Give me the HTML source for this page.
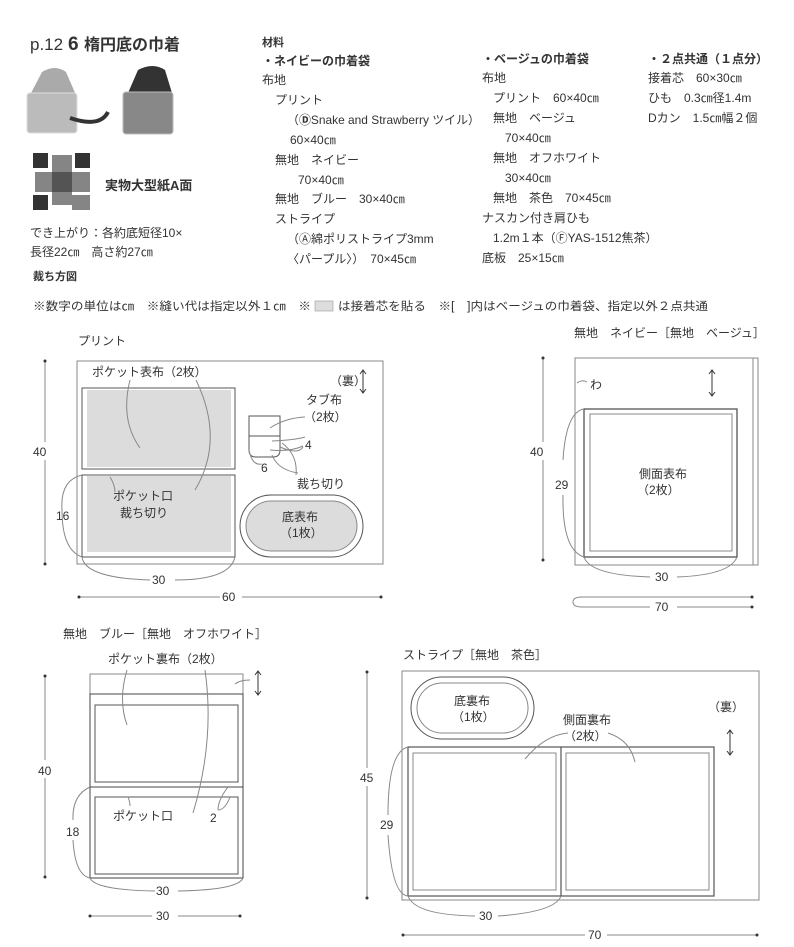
<!DOCTYPE html>
<html><head><meta charset="utf-8"><style>
html,body{margin:0;padding:0;background:#fff}
svg{display:block}
text{font-family:"Liberation Sans","Noto Sans CJK JP",sans-serif;font-size:12px;fill:#333}
.b{font-weight:bold}
</style></head><body>
<svg width="794" height="947" viewBox="0 0 794 947" xmlns="http://www.w3.org/2000/svg">
<!-- Header -->
<text x="30" y="50" style="font-size:17px" fill="#444">p.12</text>
<text x="68" y="50" style="font-size:19px;font-weight:bold">6</text>
<text x="84" y="50" style="font-size:16px;font-weight:bold">楕円底の巾着</text>
<!-- bag photos -->
<g>
<path d="M42 72 Q55 64 66 72 L76 95 L30 95 Z" fill="#aaa"/>
<rect x="27" y="93" width="50" height="40" rx="3" fill="#bbb" stroke="#ddd"/>
<path d="M70 118 Q100 128 108 112" stroke="#333" stroke-width="4" fill="none"/>
<path d="M138 70 Q153 62 165 70 L172 93 L128 93 Z" fill="#333"/>
<rect x="123" y="92" width="50" height="42" rx="3" fill="#888" stroke="#bbb"/>
</g>
<!-- QR -->
<rect x="33" y="153" width="57" height="57" fill="#fff"/>
<g fill="#333">
<rect x="33" y="153" width="15" height="15"/><rect x="75" y="153" width="15" height="15"/><rect x="33" y="195" width="15" height="15"/>
<rect x="52" y="155" width="20" height="50" opacity=".6"/><rect x="35" y="172" width="55" height="20" opacity=".6"/><rect x="72" y="195" width="18" height="15" opacity=".6"/>
</g>
<text x="105" y="190" class="b" style="font-size:13px">実物大型紙A面</text>
<text x="30" y="237">でき上がり：各約底短径10×</text>
<text x="30" y="256">長径22㎝　高さ約27㎝</text>
<text x="33" y="280" class="b" style="font-size:11px">裁ち方図</text>
<text x="33" y="310" style="font-size:11.5px" textLength="278" lengthAdjust="spacingAndGlyphs">※数字の単位は㎝　※縫い代は指定以外１㎝　※</text>
<rect x="315" y="301" width="18" height="10" fill="#ddd" stroke="#999" stroke-width=".6"/>
<text x="338" y="310" style="font-size:11.5px" textLength="370" lengthAdjust="spacingAndGlyphs">は接着芯を貼る　※[　]内はベージュの巾着袋、指定以外２点共通</text>

<!-- Materials -->
<text x="262" y="46" class="b" style="font-size:11px">材料</text>
<text x="262" y="65" class="b">・ネイビーの巾着袋</text>
<text x="262" y="84">布地</text>
<text x="275" y="104">プリント</text>
<text x="287" y="124" textLength="193" lengthAdjust="spacingAndGlyphs">（<tspan style="font-weight:bold">Ⓓ</tspan>Snake and Strawberry ツイル）</text>
<text x="290" y="144">60×40㎝</text>
<text x="275" y="164">無地　ネイビー</text>
<text x="298" y="184">70×40㎝</text>
<text x="275" y="203">無地　ブルー　30×40㎝</text>
<text x="275" y="223">ストライプ</text>
<text x="287" y="243">（Ⓐ綿ポリストライプ3mm</text>
<text x="287" y="263">〈パープル〉）　70×45㎝</text>

<text x="482" y="63" class="b">・ベージュの巾着袋</text>
<text x="482" y="82">布地</text>
<text x="493" y="102">プリント　60×40㎝</text>
<text x="493" y="122">無地　ベージュ</text>
<text x="505" y="142">70×40㎝</text>
<text x="493" y="162">無地　オフホワイト</text>
<text x="505" y="182">30×40㎝</text>
<text x="493" y="202">無地　茶色　70×45㎝</text>
<text x="482" y="222">ナスカン付き肩ひも</text>
<text x="493" y="242">1.2m１本（ⒻYAS-1512焦茶）</text>
<text x="482" y="262">底板　25×15㎝</text>

<text x="648" y="63" class="b">・２点共通（１点分）</text>
<text x="648" y="82">接着芯　60×30㎝</text>
<text x="648" y="102">ひも　0.3㎝径1.4m</text>
<text x="648" y="122">Dカン　1.5㎝幅２個</text>

<!-- Diagram 1 Print -->
<g fill="none" stroke="#888" stroke-width="1">
<text x="78" y="345" stroke="none">プリント</text>
<rect x="77" y="361" width="306" height="203"/>
<rect x="82" y="388" width="153" height="81" stroke="#555"/>
<rect x="87" y="390" width="144" height="77" fill="#dcdcdc" stroke="none"/>
<rect x="82" y="475" width="153" height="82" stroke="#555"/>
<rect x="87" y="476" width="144" height="76" fill="#dcdcdc" stroke="none"/>
<path d="M249 416 H280 V450 Q280 457 273 457 H256 Q249 457 249 450 Z" stroke="#555"/>
<line x1="249" y1="436" x2="280" y2="436" stroke="#555"/>
<rect x="240" y="495" width="123" height="62" rx="31" stroke="#555"/>
<rect x="246" y="501" width="111" height="50" rx="25" fill="#dcdcdc" stroke="#888"/>
<path d="M130 380 Q120 420 140 448" /><path d="M196 380 Q225 440 195 490"/>
<path d="M110 477 Q115 485 115 492"/>
<path d="M82 475 Q60 480 62 510 Q62 550 82 557"/>
<path d="M82 557 Q85 578 150 580 M175 580 Q230 580 235 557"/>
<path d="M270 428 Q285 418 305 417 M272 441 Q295 440 305 437 M270 450 Q290 452 303 446 M280 447 Q298 455 303 447"/>
<path d="M249 450 Q252 466 262 464 M272 455 Q278 470 298 473 M282 443 Q298 455 296 475"/>
<line x1="79" y1="597" x2="220" y2="597"/><line x1="242" y1="597" x2="381" y2="597"/>
<line x1="45" y1="361" x2="45" y2="442"/><line x1="45" y1="460" x2="45" y2="564"/>
</g>
<g fill="#333"><circle cx="79" cy="597" r="1.5"/><circle cx="381" cy="597" r="1.5"/><circle cx="45" cy="361" r="1.5"/><circle cx="45" cy="564" r="1.5"/></g>
<text x="92" y="376">ポケット表布（2枚）</text>
<text x="330" y="385">（裏）</text>
<path d="M363 371 V392 M360 374 L363 370 L366 374 M360 389 L363 393 L366 389" stroke="#333" fill="none"/>
<text x="306" y="404">タブ布</text><text x="304" y="421">（2枚）</text>
<text x="305" y="449">4</text><text x="261" y="472">6</text><text x="297" y="488">裁ち切り</text>
<text x="113" y="500">ポケット口</text><text x="120" y="517">裁ち切り</text>
<text x="282" y="521">底表布</text><text x="280" y="537">（1枚）</text>
<text x="56" y="520">16</text><text x="152" y="584">30</text><text x="222" y="601">60</text><text x="33" y="456">40</text>

<!-- Diagram 2 navy -->
<text x="574" y="337">無地　ネイビー［無地　ベージュ］</text>
<g fill="none" stroke="#888">
<rect x="575" y="358" width="183" height="207"/>
<line x1="753" y1="358" x2="753" y2="565"/>
<rect x="584" y="409" width="153" height="148" stroke="#555" stroke-width="1.3"/>
<rect x="590" y="414" width="142" height="137"/>
<path d="M584 409 Q566 412 563 460 M563 495 Q562 550 584 557"/>
<path d="M584 557 Q590 575 650 577 M677 577 Q730 575 737 557"/>
<path d="M577 383 Q582 379 587 382"/>
<path d="M582 597 Q573 597 573 602 Q573 607 582 607 H650 M677 607 H752 M580 597 H752"/>
<line x1="543" y1="358" x2="543" y2="442"/><line x1="543" y1="460" x2="543" y2="560"/>
</g>
<g fill="#333"><circle cx="543" cy="358" r="1.5"/><circle cx="543" cy="560" r="1.5"/><circle cx="752" cy="597" r="1.5"/><circle cx="752" cy="607" r="1.5"/></g>
<path d="M712 371 V395 M709 374 L712 370 L715 374 M709 392 L712 396 L715 392" stroke="#333" fill="none"/>
<text x="590" y="389">わ</text>
<text x="639" y="478">側面表布</text><text x="637" y="494">（2枚）</text>
<text x="530" y="456">40</text><text x="555" y="489">29</text><text x="655" y="581">30</text><text x="655" y="611">70</text>

<!-- Diagram 3 blue -->
<text x="63" y="638">無地　ブルー［無地　オフホワイト］</text>
<text x="108" y="663">ポケット裏布（2枚）</text>
<g fill="none" stroke="#888">
<rect x="90" y="674" width="153" height="20"/>
<rect x="90" y="694" width="153" height="184" stroke="#444"/>
<line x1="90" y1="787" x2="243" y2="787" stroke="#444"/>
<rect x="95" y="705" width="143" height="77" stroke="#555"/>
<rect x="95" y="797" width="143" height="77" stroke="#555"/>
<path d="M127 670 Q118 700 127 725 M205 670 Q215 740 193 813 M235 684 Q240 680 250 680"/>
<path d="M128 797 Q130 802 130 806 M228 787 Q218 800 218 810 M230 797 Q225 810 218 810"/>
<path d="M90 787 Q72 795 73 820 M73 840 Q75 875 90 878 Q95 890 155 891 M178 891 Q238 890 243 878"/>
<line x1="90" y1="916" x2="152" y2="916"/><line x1="178" y1="916" x2="240" y2="916"/>
<line x1="45" y1="676" x2="45" y2="760"/><line x1="45" y1="778" x2="45" y2="877"/>
</g>
<g fill="#333"><circle cx="90" cy="916" r="1.5"/><circle cx="240" cy="916" r="1.5"/><circle cx="45" cy="676" r="1.5"/><circle cx="45" cy="877" r="1.5"/></g>
<path d="M258 672 V694 M255 675 L258 671 L261 675 M255 691 L258 695 L261 691" stroke="#333" fill="none"/>
<text x="113" y="820">ポケット口</text><text x="210" y="822">2</text>
<text x="38" y="775">40</text><text x="66" y="836">18</text><text x="156" y="895">30</text><text x="156" y="920">30</text>

<!-- Diagram 4 stripe -->
<text x="403" y="659">ストライプ［無地　茶色］</text>
<g fill="none" stroke="#888">
<rect x="402" y="671" width="357" height="229"/>
<rect x="411" y="677" width="123" height="62" rx="31" stroke="#555"/>
<rect x="417" y="683" width="111" height="50" rx="25"/>
<rect x="408" y="747" width="306" height="149" stroke="#555" stroke-width="1.2"/>
<line x1="561" y1="747" x2="561" y2="896" stroke="#555" stroke-width="1.2"/>
<rect x="413" y="753" width="143" height="137"/>
<rect x="566" y="753" width="143" height="137"/>
<path d="M525 759 Q545 735 568 733 M608 733 Q630 740 635 762"/>
<path d="M408 747 Q388 752 388 815 M388 835 Q392 895 408 896 Q415 915 475 916 M498 916 Q555 912 561 896"/>
<line x1="403" y1="935" x2="585" y2="935"/><line x1="607" y1="935" x2="757" y2="935"/>
<line x1="367" y1="672" x2="367" y2="768"/><line x1="367" y1="786" x2="367" y2="898"/>
</g>
<g fill="#333"><circle cx="403" cy="935" r="1.5"/><circle cx="757" cy="935" r="1.5"/><circle cx="367" cy="672" r="1.5"/><circle cx="367" cy="898" r="1.5"/></g>
<path d="M730 731 V754 M727 734 L730 730 L733 734 M727 751 L730 755 L733 751" stroke="#333" fill="none"/>
<text x="454" y="705">底裏布</text><text x="452" y="721">（1枚）</text>
<text x="563" y="724">側面裏布</text><text x="564" y="740">（2枚）</text>
<text x="708" y="711">（裏）</text>
<text x="360" y="782">45</text><text x="380" y="829">29</text><text x="479" y="920">30</text><text x="588" y="939">70</text>
</svg>
</body></html>
